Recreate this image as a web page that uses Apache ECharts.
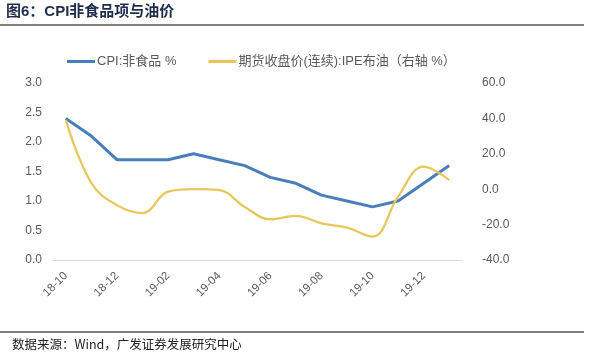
<!DOCTYPE html>
<html><head><meta charset="utf-8">
<script src="https://cdn.jsdelivr.net/npm/echarts@6/dist/echarts.min.js"></script>
<style>html,body{margin:0;padding:0;background:#fff}#c{width:590px;height:356px}</style>
</head><body><div id="c"></div>
<script>
const categories = ['18-10','18-11','18-12','19-01','19-02','19-03','19-04','19-05','19-06','19-07','19-08','19-09','19-10','19-11','19-12','20-01'];
const cpiNonFood = [2.4,2.1,1.7,1.7,1.7,1.8,1.7,1.6,1.4,1.3,1.1,1.0,0.9,1.0,1.3,1.6];
const brentYoY = [39,3.5,-9,-13.5,-1.4,0,-0.5,-10,-17,-15,-19.3,-21.7,-26.8,-4.2,12.7,5.2];
const leftTicks = {min:0,max:3,interval:0.5};
const rightTicks = {min:-40,max:60,interval:20};
const seriesNames = ['CPI:非食品 %','期货收盘价(连续):IPE布油（右轴 %）'];
const titleText = '图6：CPI非食品项与油价';
const sourceText = '数据来源：Wind，广发证券发展研究中心';

const FONT = '"Liberation Sans", Arial, "Noto Sans CJK SC", sans-serif';
const chart = echarts.init(document.getElementById('c'));
chart.setOption({
  animation:false,
  textStyle:{fontFamily:FONT},
  graphic:[
    {type:'text',left:6,top:4,style:{text:titleText,font:'bold 15px "Liberation Sans", Arial, "Noto Sans CJK SC"',fill:'#1f2d4a'}},
    {type:'line',shape:{x1:0,y1:25,x2:584,y2:25},style:{stroke:'#000',lineWidth:1.2}},
    {type:'line',shape:{x1:0,y1:332,x2:584,y2:332},style:{stroke:'#000',lineWidth:1.2}},
    {type:'text',left:12,top:338,style:{text:sourceText,font:'12.5px "Noto Sans CJK SC", sans-serif',fill:'#222'}}
  ],
  legend:{left:62,top:50,itemWidth:28,itemHeight:3,itemGap:32,icon:'rect',
    textStyle:{fontSize:13,color:'#595959',fontFamily:FONT,padding:[0,0,0,-3]},
    data:seriesNames},
  grid:{left:53,right:128,top:83,bottom:96},
  xAxis:{type:'category',data:categories,boundaryGap:true,
    axisLine:{lineStyle:{color:'#d9d9d9',width:1}},axisTick:{show:false},
    axisLabel:{interval:1,rotate:45,fontSize:11.5,color:'#595959',margin:14}},
  yAxis:[
    {type:'value',min:leftTicks.min,max:leftTicks.max,interval:leftTicks.interval,
     splitLine:{show:false},axisLine:{show:false},axisTick:{show:false},
     axisLabel:{fontSize:12,color:'#595959',margin:11,formatter:v=>v.toFixed(1)}},
    {type:'value',min:rightTicks.min,max:rightTicks.max,interval:rightTicks.interval,
     splitLine:{show:false},axisLine:{show:false},axisTick:{show:false},
     axisLabel:{fontSize:12,color:'#595959',margin:20,formatter:v=>v.toFixed(1)}}
  ],
  series:[
    {name:seriesNames[0],type:'line',data:cpiNonFood,yAxisIndex:0,showSymbol:false,
     lineStyle:{color:'#4a7ebb',width:3},itemStyle:{color:'#4a7ebb'}},
    {name:seriesNames[1],type:'line',data:brentYoY,yAxisIndex:1,showSymbol:false,smooth:0.4,
     lineStyle:{color:'#e8c65a',width:2.25},itemStyle:{color:'#e8c65a'}}
  ]
});
</script></body></html>
